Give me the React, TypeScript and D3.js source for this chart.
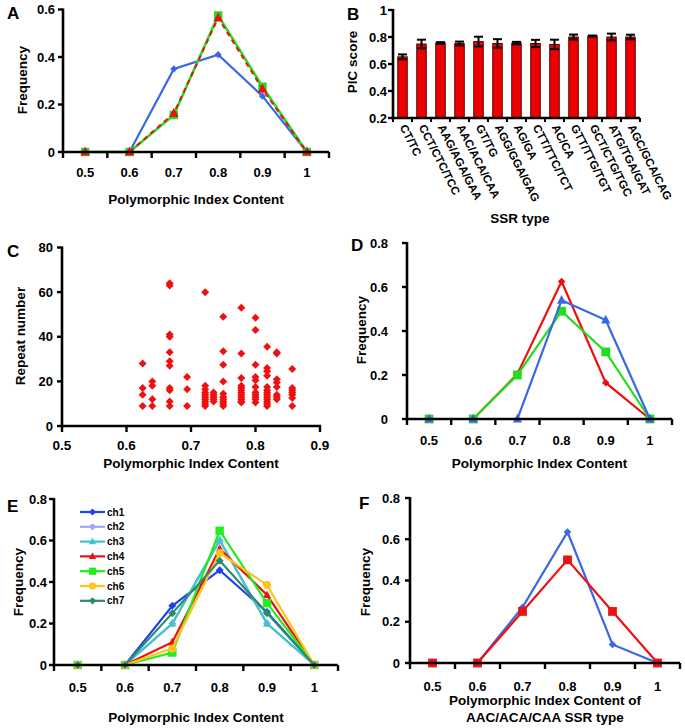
import React from "react";
import * as d3 from "d3";

// ---------- DATA ----------
const picCategories = ["0.5", "0.6", "0.7", "0.8", "0.9", "1"];

// Panel A
const aBlue = [0, 0, 0.35, 0.41, 0.235, 0];
const aGreen = [0, 0, 0.156, 0.575, 0.275, 0];
const aRed = [0, 0, 0.163, 0.565, 0.265, 0];
const aTicks = [0, 0.2, 0.4, 0.6];

// Panel B
const ssrTypes = [
  "CT/TC", "CCT/CTC/TCC", "AAG/AGA/GAA", "AAC/ACA/CAA", "GT/TG", "AGG/GGA/GAG",
  "AG/GA", "CTT/TTC/TCT", "AC/CA", "GTT/TTG/TGT", "GCT/CTG/TGC", "ATG/TGA/GAT", "AGC/GCA/CAG",
];
const picMeans = [0.653, 0.748, 0.756, 0.752, 0.766, 0.752, 0.755, 0.752, 0.745, 0.8, 0.807, 0.8, 0.8];
const picErrors = [0.018, 0.032, 0.006, 0.014, 0.036, 0.032, 0.009, 0.027, 0.035, 0.018, 0.004, 0.025, 0.017];
const bTicks = [0.2, 0.4, 0.6, 0.8, 1];

// Panel C (PIC, repeat number)
const scatterPic = [
  0.625, 0.625, 0.625, 0.625,
  0.64, 0.64, 0.64, 0.64,
  0.667, 0.667, 0.667, 0.667, 0.667, 0.667, 0.667, 0.667, 0.667, 0.667, 0.667,
  0.694, 0.694, 0.694,
  0.722, 0.722, 0.722, 0.722, 0.722, 0.722, 0.722, 0.722, 0.722, 0.722,
  0.735, 0.735, 0.735, 0.735, 0.735,
  0.75, 0.75, 0.75, 0.75, 0.75, 0.75, 0.75, 0.75, 0.75, 0.75,
  0.778, 0.778, 0.778, 0.778, 0.778, 0.778, 0.778, 0.778, 0.778, 0.778, 0.778, 0.778,
  0.8, 0.8, 0.8, 0.8, 0.8, 0.8, 0.8, 0.8, 0.8, 0.8, 0.8,
  0.818, 0.818, 0.818, 0.818, 0.818, 0.818, 0.818, 0.818, 0.818, 0.818, 0.818, 0.818, 0.818,
  0.833, 0.833, 0.833, 0.833, 0.833, 0.833, 0.833, 0.833,
  0.857, 0.857, 0.857, 0.857, 0.857, 0.857, 0.857,
];
const scatterRepeat = [
  28, 17, 14, 9,
  20, 18, 12, 9,
  64, 63, 41, 40, 33, 29, 27, 17, 16, 11, 9,
  22, 16.5, 9,
  60, 18, 16.5, 15, 14, 13, 12, 11, 10, 9,
  15, 14, 13, 12, 11,
  49, 33.5, 27.5, 20, 14.5, 13, 12, 11, 10, 9,
  53, 32.5, 21.5, 18, 17, 16, 15, 14, 13, 12, 11, 10.5,
  48.5, 43, 27.5, 22, 20.5, 17.5, 15, 14, 13, 12, 10.5,
  35.5, 26, 24.5, 22.5, 17.5, 16, 15, 14, 13, 12, 11, 10, 9,
  33, 32.5, 21, 19.5, 17.5, 14, 13, 12,
  25.5, 17, 16, 15, 14, 12.5, 9,
];
const cXTicks = [0.5, 0.6, 0.7, 0.8, 0.9];
const cYTicks = [0, 20, 40, 60, 80];

// Panel D
const dRed = [0, 0, 0.205, 0.625, 0.165, 0];
const dGreen = [0, 0, 0.2, 0.49, 0.305, 0];
const dBlue = [0, 0, 0, 0.54, 0.45, 0];
const freqTicks = [0, 0.2, 0.4, 0.6, 0.8];

// Panel E
const chNames = ["ch1", "ch2", "ch3", "ch4", "ch5", "ch6", "ch7"];
const ch1 = [0, 0, 0.285, 0.457, 0.255, 0];
const ch2 = [0, 0, 0.2, 0.6, 0.2, 0];
const ch3 = [0, 0, 0.2, 0.602, 0.2, 0];
const ch4 = [0, 0, 0.11, 0.56, 0.337, 0];
const ch5 = [0, 0, 0.06, 0.647, 0.298, 0];
const ch6 = [0, 0, 0.08, 0.54, 0.385, 0];
const ch7 = [0, 0, 0.25, 0.503, 0.25, 0];

// Panel F
const fBlue = [0, 0, 0.27, 0.635, 0.09, 0];
const fRed = [0, 0, 0.25, 0.5, 0.25, 0];

// ---------- STYLE ----------
const FONT = "'Liberation Sans', Arial, Helvetica, sans-serif";
const BLUE = "#3a68e2";
const RED = "#ee1111";
const GREEN = "#22dd22";
const chColors = ["#1f43ec", "#a0a4f4", "#3ec6c8", "#ee1111", "#20ee20", "#ffc41c", "#2a8a6e"];
const chShapes = ["diamond", "diamond", "triangle", "triangle", "square", "circle", "diamond"];
const chValues = [ch1, ch2, ch3, ch4, ch5, ch6, ch7];

function Marker({ shape, x, y, color, s }: { shape: string; x: number; y: number; color: string; s: number }) {
  if (shape === "diamond")
    return <polygon points={`${x},${y - s} ${x + s},${y} ${x},${y + s} ${x - s},${y}`} fill={color} />;
  if (shape === "square") return <rect x={x - s} y={y - s} width={2 * s} height={2 * s} fill={color} />;
  if (shape === "triangle")
    return <polygon points={`${x},${y - s * 1.15} ${x + s},${y + s * 0.75} ${x - s},${y + s * 0.75}`} fill={color} />;
  return <circle cx={x} cy={y} r={s} fill={color} />;
}

type Series = { values: number[]; color: string; shape: string; s: number; dash?: string; width?: number };

function FreqPanel(props: {
  left: number; right: number; yZero: number; yTop: number; yMax: number; ticks: number[];
  series: Series[]; tickGap: number; xLabelY: number; titles: { text: string; y: number }[];
  yTitle: { x: number; y: number }; letter: { text: string; x: number; y: number };
}) {
  const { left, right, yZero, yTop, yMax, ticks, series, tickGap, xLabelY, titles, yTitle, letter } = props;
  const x = d3.scaleBand<string>().domain(picCategories).range([left, right]).padding(0);
  const y = d3.scaleLinear().domain([0, yMax]).range([yZero, yTop]);
  const cx = (c: string) => (x(c) as number) + x.bandwidth() / 2;
  const boundaries = d3.range(picCategories.length + 1).map((i) => left + i * x.bandwidth());
  return (
    <g fontFamily={FONT} fontWeight="bold">
      {series.map((s, i) => {
        const line = d3.line<number>().x((_, j) => cx(picCategories[j])).y((v) => y(v));
        return (
          <g key={i}>
            <path d={line(s.values) || ""} fill="none" stroke={s.color} strokeWidth={s.width ?? 2.2} strokeDasharray={s.dash} />
            {s.values.map((v, j) => (
              <Marker key={j} shape={s.shape} x={cx(picCategories[j])} y={y(v)} color={s.color} s={s.s} />
            ))}
          </g>
        );
      })}
      <line x1={left} x2={left} y1={yTop - 1} y2={yZero + 1.2} stroke="#000" strokeWidth={2.6} />
      <line x1={left - 1.2} x2={right} y1={yZero} y2={yZero} stroke="#000" strokeWidth={2.6} />
      {ticks.map((t) => (
        <g key={t}>
          <line x1={left - 5} x2={left} y1={y(t)} y2={y(t)} stroke="#000" strokeWidth={2.4} />
          <text x={left - tickGap} y={y(t) + 4.6} textAnchor="end" fontSize={13}>{String(t)}</text>
        </g>
      ))}
      {boundaries.map((b, i) => (
        <line key={i} x1={b} x2={b} y1={yZero} y2={yZero + 6} stroke="#000" strokeWidth={2.4} />
      ))}
      {picCategories.map((c) => (
        <text key={c} x={cx(c)} y={xLabelY} textAnchor="middle" fontSize={13}>{c}</text>
      ))}
      {titles.map((t, i) => (
        <text key={i} x={(left + right) / 2} y={t.y} textAnchor="middle" fontSize={13.5}>{t.text}</text>
      ))}
      <text transform={`translate(${yTitle.x},${yTitle.y}) rotate(-90)`} textAnchor="middle" fontSize={13.5}>Frequency</text>
      <text x={letter.x} y={letter.y} fontSize={17}>{letter.text}</text>
    </g>
  );
}

function PanelB() {
  const left = 393, right = 640, yBottom = 118, yTopPx = 10;
  const x = d3.scaleBand<string>().domain(ssrTypes).range([left, right]).paddingInner(0.5).paddingOuter(0.25);
  const xb = d3.scaleBand<string>().domain(ssrTypes).range([left, right]).padding(0);
  const y = d3.scaleLinear().domain([0.2, 1]).range([yBottom, yTopPx]);
  return (
    <g fontFamily={FONT} fontWeight="bold">
      {ssrTypes.map((t, i) => {
        const bx = x(t) as number;
        const w = x.bandwidth();
        const c = bx + w / 2;
        const m = picMeans[i], e = picErrors[i];
        return (
          <g key={t}>
            <rect x={bx} y={y(m)} width={w} height={yBottom - y(m)} fill="#ee0000" stroke="#5a0000" strokeWidth={1} />
            <line x1={c} x2={c} y1={y(m + e)} y2={y(m - e)} stroke="#000" strokeWidth={2} />
            <line x1={c - 4.5} x2={c + 4.5} y1={y(m + e)} y2={y(m + e)} stroke="#000" strokeWidth={2} />
            <line x1={c - 4.5} x2={c + 4.5} y1={y(m - e)} y2={y(m - e)} stroke="#000" strokeWidth={2} />
          </g>
        );
      })}
      <line x1={left} x2={left} y1={yTopPx - 1} y2={yBottom + 1.2} stroke="#000" strokeWidth={2.6} />
      <line x1={left - 1.2} x2={right} y1={yBottom} y2={yBottom} stroke="#000" strokeWidth={2.6} />
      {bTicks.map((t) => (
        <g key={t}>
          <line x1={left - 5} x2={left} y1={y(t)} y2={y(t)} stroke="#000" strokeWidth={2.4} />
          <text x={left - 6} y={y(t) + 4.6} textAnchor="end" fontSize={13}>{String(t)}</text>
        </g>
      ))}
      {d3.range(ssrTypes.length + 1).map((i) => (
        <line key={i} x1={left + i * xb.bandwidth()} x2={left + i * xb.bandwidth()} y1={yBottom} y2={yBottom + 4} stroke="#000" strokeWidth={2} />
      ))}
      {ssrTypes.map((t) => {
        const c = (xb(t) as number) + xb.bandwidth() / 2;
        return (
          <text key={t} transform={`translate(${c - 3},${127}) rotate(63)`} fontSize={11.5}>{t}</text>
        );
      })}
      <text x={520} y={223} textAnchor="middle" fontSize={13.5}>SSR type</text>
      <text transform={`translate(357,62) rotate(-90)`} textAnchor="middle" fontSize={13.5}>PIC score</text>
      <text x={347} y={20} fontSize={17}>B</text>
    </g>
  );
}

function PanelC() {
  const left = 62, right = 320, yBottom = 426, yTopPx = 247.5;
  const x = d3.scaleLinear().domain([0.5, 0.9]).range([left, right]);
  const y = d3.scaleLinear().domain([0, 80]).range([yBottom, yTopPx]);
  return (
    <g fontFamily={FONT} fontWeight="bold">
      {scatterPic.map((p, i) => (
        <Marker key={i} shape="diamond" x={x(p)} y={y(scatterRepeat[i])} color="#ee1111" s={4} />
      ))}
      <line x1={left} x2={left} y1={yTopPx - 1} y2={yBottom + 1.2} stroke="#000" strokeWidth={2.6} />
      <line x1={left - 1.2} x2={right + 1} y1={yBottom} y2={yBottom} stroke="#000" strokeWidth={2.6} />
      {cYTicks.map((t) => (
        <g key={t}>
          <line x1={left - 5} x2={left} y1={y(t)} y2={y(t)} stroke="#000" strokeWidth={2.4} />
          <text x={left - 9} y={y(t) + 4.6} textAnchor="end" fontSize={13}>{String(t)}</text>
        </g>
      ))}
      {cXTicks.map((t) => (
        <g key={t}>
          <line x1={x(t)} x2={x(t)} y1={yBottom} y2={yBottom + 6} stroke="#000" strokeWidth={2.4} />
          <text x={x(t)} y={450} textAnchor="middle" fontSize={13.5}>{String(t)}</text>
        </g>
      ))}
      <text x={(left + right) / 2} y={468} textAnchor="middle" fontSize={13.5}>Polymorphic Index Content</text>
      <text transform={`translate(25,336) rotate(-90)`} textAnchor="middle" fontSize={13.5}>Repeat number</text>
      <text x={7} y={257} fontSize={17}>C</text>
    </g>
  );
}

function PanelELegend() {
  return (
    <g fontFamily={FONT} fontWeight="bold">
      {chNames.map((n, i) => {
        const yy = 512 + i * 14.8;
        return (
          <g key={n}>
            <line x1={80} x2={105} y1={yy} y2={yy} stroke={chColors[i]} strokeWidth={2.2} />
            <Marker shape={chShapes[i]} x={92.5} y={yy} color={chColors[i]} s={3.6} />
            <text x={107} y={yy + 3.6} fontSize={10}>{n}</text>
          </g>
        );
      })}
    </g>
  );
}

export default function App() {
  const eSeries: Series[] = chValues.map((v, i) => ({ values: v, color: chColors[i], shape: chShapes[i], s: i === 4 ? 4.2 : 4 }));
  return (
    <svg width={685} height={728} style={{ position: "absolute", left: 0, top: 0, background: "#fff" }}>
      <rect width={685} height={728} fill="#fff" />
      <FreqPanel
        left={63} right={329} yZero={152} yTop={9.5} yMax={0.6} ticks={aTicks}
        series={[
          { values: aBlue, color: BLUE, shape: "diamond", s: 3.6 },
          { values: aGreen, color: GREEN, shape: "square", s: 4.2, width: 2.6 },
          { values: aRed, color: RED, shape: "triangle", s: 4.8, dash: "5,4", width: 2 },
        ]}
        tickGap={8} xLabelY={177} titles={[{ text: "Polymorphic Index Content", y: 204 }]}
        yTitle={{ x: 27, y: 80 }} letter={{ text: "A", x: 7, y: 19 }}
      />
      <PanelB />
      <PanelC />
      <FreqPanel
        left={407} right={672} yZero={419} yTop={243} yMax={0.8} ticks={freqTicks}
        series={[
          { values: dRed, color: RED, shape: "diamond", s: 3.8 },
          { values: dGreen, color: GREEN, shape: "square", s: 4.4 },
          { values: dBlue, color: BLUE, shape: "triangle", s: 4.6 },
        ]}
        tickGap={19} xLabelY={445} titles={[{ text: "Polymorphic Index Content", y: 468 }]}
        yTitle={{ x: 366, y: 330 }} letter={{ text: "D", x: 351, y: 251 }}
      />
      <FreqPanel
        left={54} right={338} yZero={665} yTop={499} yMax={0.8} ticks={freqTicks}
        series={eSeries}
        tickGap={7} xLabelY={692} titles={[{ text: "Polymorphic Index Content", y: 722 }]}
        yTitle={{ x: 23, y: 582 }} letter={{ text: "E", x: 7, y: 512 }}
      />
      <PanelELegend />
      <FreqPanel
        left={410} right={680} yZero={663} yTop={498} yMax={0.8} ticks={freqTicks}
        series={[
          { values: fBlue, color: BLUE, shape: "diamond", s: 3.8 },
          { values: fRed, color: RED, shape: "square", s: 4.4 },
        ]}
        tickGap={10} xLabelY={691}
        titles={[{ text: "Polymorphic Index Content of", y: 705 }, { text: "AAC/ACA/CAA SSR type", y: 722 }]}
        yTitle={{ x: 370, y: 582 }} letter={{ text: "F", x: 359, y: 509 }}
      />
    </svg>
  );
}
